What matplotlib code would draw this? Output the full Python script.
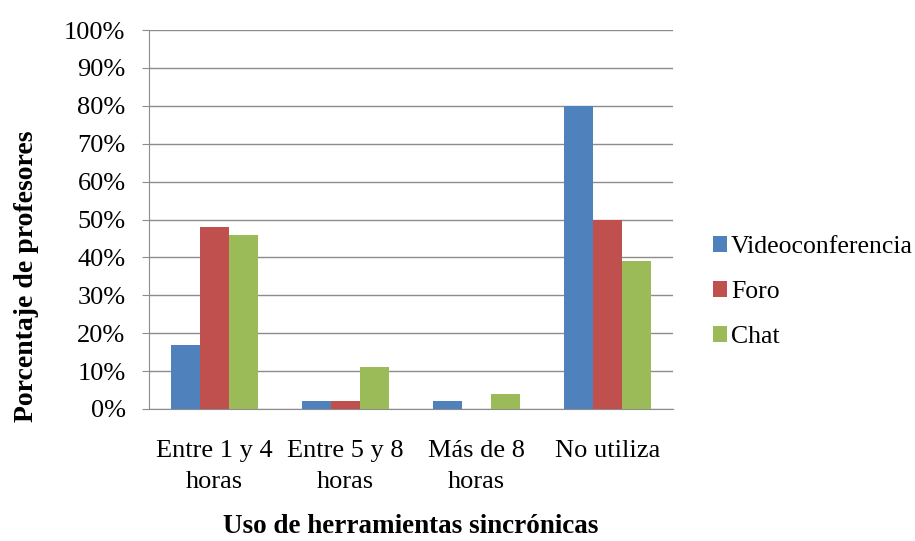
import matplotlib.pyplot as plt
import numpy as np
from matplotlib.ticker import PercentFormatter

plt.rcParams['font.family'] = ['Liberation Serif', 'DejaVu Serif']

categories = ['Entre 1 y 4\nhoras', 'Entre 5 y 8\nhoras', 'Más de 8\nhoras', 'No utiliza']
series = ['Videoconferencia', 'Foro', 'Chat']
videoconferencia = [17, 2, 2, 80]
foro = [48, 2, 0, 50]
chat = [46, 11, 4, 39]
colors = ['#4F81BD', '#C0504D', '#9BBB59']

fig = plt.figure(figsize=(9.15, 5.41), dpi=100)
ax = fig.add_axes([0.163, 0.244, 0.5725, 0.7005])

x = np.arange(len(categories))
width = 1 / 4.5   # excel-like gap width of 150%
for i, (name, values, color) in enumerate(zip(series, [videoconferencia, foro, chat], colors)):
    ax.bar(x + (i - 1) * width, values, width, color=color, label=name, zorder=3)

ax.set_xlim(-0.5, len(categories) - 0.5)
ax.set_ylim(0, 100)
ax.set_yticks(range(0, 101, 10))
ax.yaxis.set_major_formatter(PercentFormatter(decimals=0))
ax.set_xticks(x)
ax.set_xticklabels(categories, linespacing=1.55)
ax.grid(axis='y', color='#8c8c8c', linewidth=1, zorder=0)

for side in ['top', 'right']:
    ax.spines[side].set_visible(False)
for side in ['left', 'bottom']:
    ax.spines[side].set_color('#8c8c8c')
ax.tick_params(axis='y', length=5, color='#8c8c8c', labelsize=19, pad=12)
ax.tick_params(axis='x', length=0, labelsize=19, pad=22)

fig.text(27 / 915, 1 - 276 / 541, 'Porcentaje de profesores', rotation=90,
         ha='center', va='center', fontsize=20, fontweight='bold')
fig.text(0.449, 1 - 533 / 541, 'Uso de herramientas sincrónicas',
         ha='center', va='baseline', fontsize=19.5, fontweight='bold')

fig.legend(
    loc='center left', bbox_to_anchor=(713 / 915, 1 - 292 / 541), frameon=False,
    borderpad=0, borderaxespad=0,
    fontsize=18.5, handlelength=0.55, handleheight=0.55, handletextpad=0.15,
    labelspacing=0.9
)

fig.savefig('out.png', dpi=100)
